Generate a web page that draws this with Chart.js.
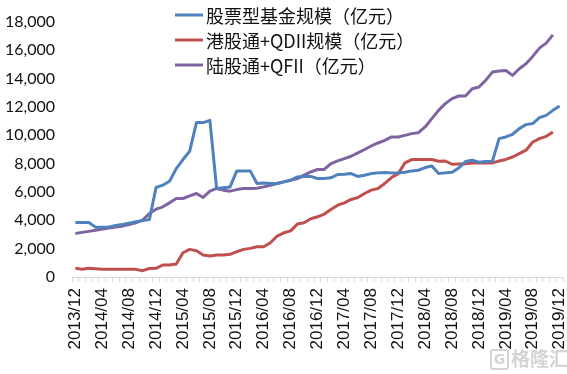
<!DOCTYPE html>
<html>
<head>
<meta charset="utf-8">
<script src="https://cdn.jsdelivr.net/npm/chart.js@4"></script>
<style>
  html, body { margin: 0; padding: 0; background: #fff; }
  #wrap { position: relative; width: 567px; height: 374px; }
  #wm { position: absolute; left: 490px; top: 344px; font: bold 19px "Noto Sans CJK SC", sans-serif; color: #d4d4d4; letter-spacing: 0px; white-space: nowrap; }
  #wm span { display: inline-block; border: 2px solid #d4d4d4; border-radius: 3px; font: bold 14px "DejaVu Sans", sans-serif; width: 15px; height: 17px; line-height: 17px; text-align: center; margin-right: 2px; vertical-align: 2px; }
</style>
</head>
<body>
<div id="wrap">
  <canvas id="c"></canvas>
  <div id="wm"><span>G</span>格隆汇</div>
</div>
<script>
const categories = [
  "2013/12",
  "2014/01","2014/02","2014/03","2014/04","2014/05","2014/06","2014/07","2014/08","2014/09","2014/10","2014/11","2014/12",
  "2015/01","2015/02","2015/03","2015/04","2015/05","2015/06","2015/07","2015/08","2015/09","2015/10","2015/11","2015/12",
  "2016/01","2016/02","2016/03","2016/04","2016/05","2016/06","2016/07","2016/08","2016/09","2016/10","2016/11","2016/12",
  "2017/01","2017/02","2017/03","2017/04","2017/05","2017/06","2017/07","2017/08","2017/09","2017/10","2017/11","2017/12",
  "2018/01","2018/02","2018/03","2018/04","2018/05","2018/06","2018/07","2018/08","2018/09","2018/10","2018/11","2018/12",
  "2019/01","2019/02","2019/03","2019/04","2019/05","2019/06","2019/07","2019/08","2019/09","2019/10","2019/11","2019/12"
];

const seriesNames = ["股票型基金规模（亿元）", "港股通+QDII规模（亿元）", "陆股通+QFII（亿元）"];

const equityFund = [
  3850, 3850, 3850, 3520, 3520, 3530, 3640, 3700, 3800, 3900, 3980, 4050, 6320,
  6480, 6760, 7650, 8290, 8880, 10900, 10900, 11060, 6250, 6300, 6360, 7490,
  7490, 7490, 6600, 6640, 6600, 6600, 6715, 6830, 7065, 7100, 7100, 6950,
  6950, 7000, 7235, 7260, 7300, 7100, 7180, 7300, 7350, 7375, 7350, 7350,
  7400, 7490, 7535, 7725, 7840, 7300, 7350, 7400, 7700, 8150, 8240, 8100,
  8150, 8170, 9770, 9885, 10075, 10475, 10755, 10830, 11250, 11410, 11765, 12070
];

const southboundQDII = [
  610, 540, 610, 580, 540, 540, 540, 540, 540, 540, 446, 600, 610,
  845, 850, 915, 1712, 1950, 1855, 1550, 1480, 1550, 1550, 1600, 1785,
  1950, 2020, 2135, 2135, 2415, 2890, 3120, 3260, 3735, 3830, 4110, 4250,
  4440, 4770, 5070, 5235, 5475, 5615, 5895, 6130, 6250, 6600, 7020, 7300,
  8055, 8290, 8290, 8290, 8290, 8170, 8190, 7960, 7985, 8000, 8055, 8055,
  8055, 8055, 8190, 8300, 8470, 8710, 8950, 9530, 9770, 9930, 10240, null
];

const northboundQFII = [
  3077, 3150, 3220, 3300, 3380, 3450, 3520, 3590, 3700, 3830, 4015, 4485, 4790,
  4955, 5235, 5540, 5540, 5730, 5895, 5615, 6060, 6250, 6130, 6060, 6170,
  6250, 6250, 6270, 6360, 6480, 6600, 6715, 6830, 6950, 7185, 7420, 7590,
  7590, 8010, 8195, 8360, 8525, 8760, 9000, 9250, 9460, 9650, 9885, 9885,
  10000, 10120, 10190, 10590, 11180, 11765, 12235, 12590, 12775, 12775, 13290, 13410,
  13880, 14465, 14535, 14580, 14230, 14700, 15055, 15570, 16155, 16510, 17095, null
];

const colors = ["#4F81BD", "#C0504D", "#8064A2"];

const legendPlugin = {
  id: 'insideLegend',
  afterDatasetsDraw(chart) {
    const ctx = chart.ctx;
    ctx.save();
    ctx.font = '18px "Noto Sans CJK SC", sans-serif';
    ctx.textBaseline = 'middle';
    chart.data.datasets.forEach((ds, i) => {
      const y = 15 + i * 25;
      ctx.strokeStyle = ds.borderColor;
      ctx.lineWidth = 3;
      ctx.beginPath();
      ctx.moveTo(175, y);
      ctx.lineTo(203, y);
      ctx.stroke();
      ctx.fillStyle = '#111';
      ctx.fillText(ds.label, 206, y + 1);
    });
    ctx.restore();
  }
};

new Chart(document.getElementById('c'), {
  type: 'line',
  data: {
    labels: categories,
    datasets: [
      { label: seriesNames[0], data: equityFund, borderColor: colors[0], backgroundColor: colors[0] },
      { label: seriesNames[1], data: southboundQDII, borderColor: colors[1], backgroundColor: colors[1] },
      { label: seriesNames[2], data: northboundQFII, borderColor: colors[2], backgroundColor: colors[2] }
    ]
  },
  options: {
    responsive: true,
    maintainAspectRatio: false,
    animation: false,
    devicePixelRatio: 1,
    layout: { padding: { top: 22, right: 4, left: 0, bottom: 0 } },
    elements: {
      line: { borderWidth: 3, tension: 0, borderJoinStyle: 'round', borderCapStyle: 'butt' },
      point: { radius: 0, hoverRadius: 0 }
    },
    plugins: {
      legend: { display: false },
      tooltip: { enabled: false }
    },
    scales: {
      x: {
        type: 'category',
        offset: true,
        grid: {
          display: true,
          drawOnChartArea: false,
          drawTicks: true,
          tickLength: 5,
          color: '#d9d9d9',
          offset: true
        },
        border: { display: true, color: '#d9d9d9', width: 1 },
        ticks: {
          autoSkip: false,
          maxRotation: 90,
          minRotation: 90,
          padding: 6,
          color: '#111',
          font: { family: '"Liberation Sans", Arial, sans-serif', size: 17 },
          callback: function(value, index) {
            return index % 4 === 0 ? categories[index] : '';
          }
        },
        afterFit: function(scale) {
          scale.height = 97;
          scale.paddingLeft = 0;
          scale.paddingRight = 0;
        }
      },
      y: {
        min: 0,
        max: 18000,
        ticks: {
          stepSize: 2000,
          padding: 17,
          color: '#111',
          font: { family: 'Lato, sans-serif', size: 16 },
          callback: function(v) { return v.toLocaleString('en-US'); }
        },
        grid: { display: false, drawTicks: false },
        border: { display: false },
        afterFit: function(scale) {
          scale.width = 72;
          scale.paddingTop = 0;
          scale.paddingBottom = 0;
        }
      }
    }
  },
  plugins: [legendPlugin]
});
</script>
</body>
</html>
